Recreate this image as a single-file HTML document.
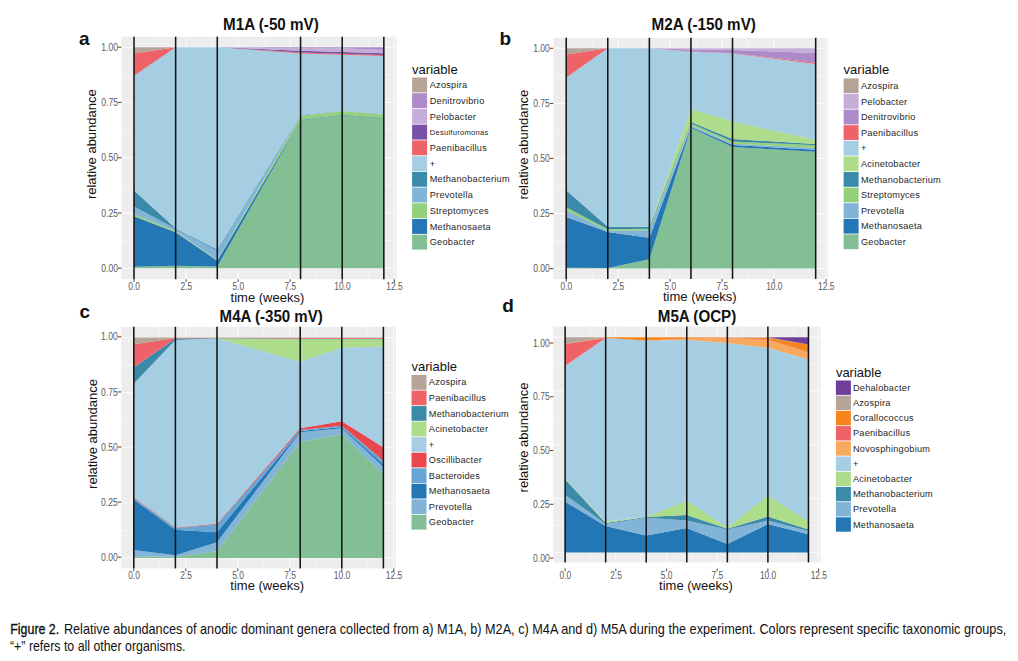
<!DOCTYPE html>
<html><head><meta charset="utf-8"><title>Figure 2</title>
<style>
html,body{margin:0;padding:0;background:#fff;width:1018px;height:661px;overflow:hidden}
svg{display:block}
text{font-family:"Liberation Sans",sans-serif}
</style></head><body>
<svg width="1018" height="661" viewBox="0 0 1018 661">
<rect x="121.5" y="36.7" width="275.1" height="242.5" fill="#EDEDED"/>
<line x1="121.5" x2="396.6" y1="240.57" y2="240.57" stroke="#F7F7F7" stroke-width="0.8"/>
<line x1="121.5" x2="396.6" y1="185.32" y2="185.32" stroke="#F7F7F7" stroke-width="0.8"/>
<line x1="121.5" x2="396.6" y1="130.07" y2="130.07" stroke="#F7F7F7" stroke-width="0.8"/>
<line x1="121.5" x2="396.6" y1="74.82" y2="74.82" stroke="#F7F7F7" stroke-width="0.8"/>
<line y1="36.7" y2="279.2" x1="160.03" x2="160.03" stroke="#F7F7F7" stroke-width="0.8"/>
<line y1="36.7" y2="279.2" x1="212.07" x2="212.07" stroke="#F7F7F7" stroke-width="0.8"/>
<line y1="36.7" y2="279.2" x1="264.12" x2="264.12" stroke="#F7F7F7" stroke-width="0.8"/>
<line y1="36.7" y2="279.2" x1="316.18" x2="316.18" stroke="#F7F7F7" stroke-width="0.8"/>
<line y1="36.7" y2="279.2" x1="368.23" x2="368.23" stroke="#F7F7F7" stroke-width="0.8"/>
<line x1="121.5" x2="396.6" y1="268.2" y2="268.2" stroke="#FCFCFC" stroke-width="1.0"/>
<line x1="121.5" x2="396.6" y1="212.95" y2="212.95" stroke="#FCFCFC" stroke-width="1.0"/>
<line x1="121.5" x2="396.6" y1="157.7" y2="157.7" stroke="#FCFCFC" stroke-width="1.0"/>
<line x1="121.5" x2="396.6" y1="102.45" y2="102.45" stroke="#FCFCFC" stroke-width="1.0"/>
<line x1="121.5" x2="396.6" y1="47.2" y2="47.2" stroke="#FCFCFC" stroke-width="1.0"/>
<line y1="36.7" y2="279.2" x1="134" x2="134" stroke="#FCFCFC" stroke-width="1.0"/>
<line y1="36.7" y2="279.2" x1="186.05" x2="186.05" stroke="#FCFCFC" stroke-width="1.0"/>
<line y1="36.7" y2="279.2" x1="238.1" x2="238.1" stroke="#FCFCFC" stroke-width="1.0"/>
<line y1="36.7" y2="279.2" x1="290.15" x2="290.15" stroke="#FCFCFC" stroke-width="1.0"/>
<line y1="36.7" y2="279.2" x1="342.2" x2="342.2" stroke="#FCFCFC" stroke-width="1.0"/>
<line y1="36.7" y2="279.2" x1="394.25" x2="394.25" stroke="#FCFCFC" stroke-width="1.0"/>
<path d="M134,266.87 L175.64,265.77 L217.28,266.43 L300.56,120.35 L342.2,115.27 L383.84,118.14 L383.84,268.2 L342.2,268.2 L300.56,268.2 L217.28,268.2 L175.64,268.2 L134,268.2Z" fill="#83BF95"/>
<path d="M134,216.26 L175.64,232.18 L217.28,260.69 L300.56,119.69 L342.2,114.83 L383.84,117.7 L383.84,118.14 L342.2,115.27 L300.56,120.35 L217.28,266.43 L175.64,265.77 L134,266.87Z" fill="#2377B4"/>
<path d="M134,214.28 L175.64,231.07 L217.28,260.02 L300.56,115.71 L342.2,111.29 L383.84,114.6 L383.84,117.7 L342.2,114.83 L300.56,119.69 L217.28,260.69 L175.64,232.18 L134,216.26Z" fill="#93D17A"/>
<path d="M134,206.54 L175.64,228.86 L217.28,250.74 L300.56,115.05 L342.2,110.85 L383.84,114.16 L383.84,114.6 L342.2,111.29 L300.56,115.71 L217.28,260.02 L175.64,231.07 L134,214.28Z" fill="#82B4D8"/>
<path d="M134,190.41 L175.64,228.2 L217.28,249.41 L300.56,114.83 L342.2,110.63 L383.84,113.94 L383.84,114.16 L342.2,110.85 L300.56,115.05 L217.28,250.74 L175.64,228.86 L134,206.54Z" fill="#3C8AAA"/>
<path d="M134,75.71 L175.64,47.2 L217.28,47.2 L300.56,53.39 L342.2,54.71 L383.84,56.04 L383.84,113.94 L342.2,110.63 L300.56,114.83 L217.28,249.41 L175.64,228.2 L134,190.41Z" fill="#A6CEE3"/>
<path d="M134,53.39 L175.64,47.2 L217.28,47.2 L300.56,52.5 L342.2,53.83 L383.84,54.94 L383.84,56.04 L342.2,54.71 L300.56,53.39 L217.28,47.2 L175.64,47.2 L134,75.71Z" fill="#EF6368"/>
<path d="M134,53.39 L175.64,47.2 L217.28,47.2 L300.56,50.74 L342.2,52.06 L383.84,53.17 L383.84,54.94 L342.2,53.83 L300.56,52.5 L217.28,47.2 L175.64,47.2 L134,53.39Z" fill="#7850A6"/>
<path d="M134,53.39 L175.64,47.2 L217.28,47.2 L300.56,48.3 L342.2,48.3 L383.84,50.07 L383.84,53.17 L342.2,52.06 L300.56,50.74 L217.28,47.2 L175.64,47.2 L134,53.39Z" fill="#C5AED8"/>
<path d="M134,53.39 L175.64,47.2 L217.28,47.2 L300.56,47.2 L342.2,47.2 L383.84,47.2 L383.84,50.07 L342.2,48.3 L300.56,48.3 L217.28,47.2 L175.64,47.2 L134,53.39Z" fill="#AC8BC8"/>
<path d="M134,47.2 L175.64,47.2 L217.28,47.2 L300.56,47.2 L342.2,47.2 L383.84,47.2 L383.84,47.2 L342.2,47.2 L300.56,47.2 L217.28,47.2 L175.64,47.2 L134,53.39Z" fill="#B6A499"/>
<line y1="36.7" y2="279.2" x1="134" x2="134" stroke="#141414" stroke-width="1.55"/>
<line y1="36.7" y2="279.2" x1="175.64" x2="175.64" stroke="#141414" stroke-width="1.55"/>
<line y1="36.7" y2="279.2" x1="217.28" x2="217.28" stroke="#141414" stroke-width="1.55"/>
<line y1="36.7" y2="279.2" x1="300.56" x2="300.56" stroke="#141414" stroke-width="1.55"/>
<line y1="36.7" y2="279.2" x1="342.2" x2="342.2" stroke="#141414" stroke-width="1.55"/>
<line y1="36.7" y2="279.2" x1="383.84" x2="383.84" stroke="#141414" stroke-width="1.55"/>
<line x1="118" x2="121.5" y1="268.2" y2="268.2" stroke="#555" stroke-width="1.1"/>
<text x="118" y="271.8" text-anchor="end" font-size="10" fill="#5A5A5A" textLength="16.74" lengthAdjust="spacingAndGlyphs">0.00</text>
<line x1="118" x2="121.5" y1="212.95" y2="212.95" stroke="#555" stroke-width="1.1"/>
<text x="118" y="216.55" text-anchor="end" font-size="10" fill="#5A5A5A" textLength="16.74" lengthAdjust="spacingAndGlyphs">0.25</text>
<line x1="118" x2="121.5" y1="157.7" y2="157.7" stroke="#555" stroke-width="1.1"/>
<text x="118" y="161.3" text-anchor="end" font-size="10" fill="#5A5A5A" textLength="16.74" lengthAdjust="spacingAndGlyphs">0.50</text>
<line x1="118" x2="121.5" y1="102.45" y2="102.45" stroke="#555" stroke-width="1.1"/>
<text x="118" y="106.05" text-anchor="end" font-size="10" fill="#5A5A5A" textLength="16.74" lengthAdjust="spacingAndGlyphs">0.75</text>
<line x1="118" x2="121.5" y1="47.2" y2="47.2" stroke="#555" stroke-width="1.1"/>
<text x="118" y="50.8" text-anchor="end" font-size="10" fill="#5A5A5A" textLength="16.74" lengthAdjust="spacingAndGlyphs">1.00</text>
<line x1="134" x2="134" y1="279.2" y2="282" stroke="#555" stroke-width="1.1"/>
<text x="134.2" y="290" text-anchor="middle" font-size="10" fill="#5A5A5A" textLength="11.68" lengthAdjust="spacingAndGlyphs">0.0</text>
<line x1="186.05" x2="186.05" y1="279.2" y2="282" stroke="#555" stroke-width="1.1"/>
<text x="186.25" y="290" text-anchor="middle" font-size="10" fill="#5A5A5A" textLength="11.68" lengthAdjust="spacingAndGlyphs">2.5</text>
<line x1="238.1" x2="238.1" y1="279.2" y2="282" stroke="#555" stroke-width="1.1"/>
<text x="238.3" y="290" text-anchor="middle" font-size="10" fill="#5A5A5A" textLength="11.68" lengthAdjust="spacingAndGlyphs">5.0</text>
<line x1="290.15" x2="290.15" y1="279.2" y2="282" stroke="#555" stroke-width="1.1"/>
<text x="290.35" y="290" text-anchor="middle" font-size="10" fill="#5A5A5A" textLength="11.68" lengthAdjust="spacingAndGlyphs">7.5</text>
<line x1="342.2" x2="342.2" y1="279.2" y2="282" stroke="#555" stroke-width="1.1"/>
<text x="342.4" y="290" text-anchor="middle" font-size="10" fill="#5A5A5A" textLength="16.35" lengthAdjust="spacingAndGlyphs">10.0</text>
<line x1="394.25" x2="394.25" y1="279.2" y2="282" stroke="#555" stroke-width="1.1"/>
<text x="394.45" y="290" text-anchor="middle" font-size="10" fill="#5A5A5A" textLength="16.35" lengthAdjust="spacingAndGlyphs">12.5</text>
<text x="230.6" y="301.8" font-size="13" fill="#111">time (weeks)</text>
<text transform="translate(95.9,144.2) rotate(-90)" text-anchor="middle" font-size="13" fill="#111">relative abundance</text>
<text x="223" y="29.5" font-size="15.6" font-weight="bold" fill="#111" textLength="95.8" lengthAdjust="spacingAndGlyphs">M1A (-50 mV)</text>
<text x="79" y="45.3" font-size="19" font-weight="bold" fill="#111">a</text>
<text x="412.1" y="73.8" font-size="13" fill="#111">variable</text>
<rect x="412.1" y="77.5" width="15" height="14.92" fill="#B6A499"/>
<text x="429.7" y="88.06" font-size="9.2" letter-spacing="0.25" fill="#262626">Azospira</text>
<rect x="412.1" y="93.22" width="15" height="14.92" fill="#AC8BC8"/>
<text x="429.7" y="103.78" font-size="9.2" letter-spacing="0.25" fill="#262626">Denitrovibrio</text>
<rect x="412.1" y="108.94" width="15" height="14.92" fill="#C5AED8"/>
<text x="429.7" y="119.5" font-size="9.2" letter-spacing="0.25" fill="#262626">Pelobacter</text>
<rect x="412.1" y="124.66" width="15" height="14.92" fill="#7850A6"/>
<text x="429.7" y="135.22" font-size="7.6" letter-spacing="0.25" fill="#262626">Desulfuromonas</text>
<rect x="412.1" y="140.38" width="15" height="14.92" fill="#EF6368"/>
<text x="429.7" y="150.94" font-size="9.2" letter-spacing="0.25" fill="#262626">Paenibacillus</text>
<rect x="412.1" y="156.1" width="15" height="14.92" fill="#A6CEE3"/>
<text x="429.7" y="166.66" font-size="9.2" letter-spacing="0.25" fill="#262626">+</text>
<rect x="412.1" y="171.82" width="15" height="14.92" fill="#3C8AAA"/>
<text x="429.7" y="182.38" font-size="9.2" letter-spacing="0.25" fill="#262626">Methanobacterium</text>
<rect x="412.1" y="187.54" width="15" height="14.92" fill="#82B4D8"/>
<text x="429.7" y="198.1" font-size="9.2" letter-spacing="0.25" fill="#262626">Prevotella</text>
<rect x="412.1" y="203.26" width="15" height="14.92" fill="#93D17A"/>
<text x="429.7" y="213.82" font-size="9.2" letter-spacing="0.25" fill="#262626">Streptomyces</text>
<rect x="412.1" y="218.98" width="15" height="14.92" fill="#2377B4"/>
<text x="429.7" y="229.54" font-size="9.2" letter-spacing="0.25" fill="#262626">Methanosaeta</text>
<rect x="412.1" y="234.7" width="15" height="14.92" fill="#83BF95"/>
<text x="429.7" y="245.26" font-size="9.2" letter-spacing="0.25" fill="#262626">Geobacter</text>
<rect x="553.4" y="37.8" width="274.5" height="241.1" fill="#EDEDED"/>
<line x1="553.4" x2="827.9" y1="241.06" y2="241.06" stroke="#F7F7F7" stroke-width="0.8"/>
<line x1="553.4" x2="827.9" y1="185.99" y2="185.99" stroke="#F7F7F7" stroke-width="0.8"/>
<line x1="553.4" x2="827.9" y1="130.91" y2="130.91" stroke="#F7F7F7" stroke-width="0.8"/>
<line x1="553.4" x2="827.9" y1="75.84" y2="75.84" stroke="#F7F7F7" stroke-width="0.8"/>
<line y1="37.8" y2="278.9" x1="592.19" x2="592.19" stroke="#F7F7F7" stroke-width="0.8"/>
<line y1="37.8" y2="278.9" x1="644.16" x2="644.16" stroke="#F7F7F7" stroke-width="0.8"/>
<line y1="37.8" y2="278.9" x1="696.14" x2="696.14" stroke="#F7F7F7" stroke-width="0.8"/>
<line y1="37.8" y2="278.9" x1="748.11" x2="748.11" stroke="#F7F7F7" stroke-width="0.8"/>
<line y1="37.8" y2="278.9" x1="800.09" x2="800.09" stroke="#F7F7F7" stroke-width="0.8"/>
<line x1="553.4" x2="827.9" y1="268.6" y2="268.6" stroke="#FCFCFC" stroke-width="1.0"/>
<line x1="553.4" x2="827.9" y1="213.53" y2="213.53" stroke="#FCFCFC" stroke-width="1.0"/>
<line x1="553.4" x2="827.9" y1="158.45" y2="158.45" stroke="#FCFCFC" stroke-width="1.0"/>
<line x1="553.4" x2="827.9" y1="103.38" y2="103.38" stroke="#FCFCFC" stroke-width="1.0"/>
<line x1="553.4" x2="827.9" y1="48.3" y2="48.3" stroke="#FCFCFC" stroke-width="1.0"/>
<line y1="37.8" y2="278.9" x1="566.2" x2="566.2" stroke="#FCFCFC" stroke-width="1.0"/>
<line y1="37.8" y2="278.9" x1="618.18" x2="618.18" stroke="#FCFCFC" stroke-width="1.0"/>
<line y1="37.8" y2="278.9" x1="670.15" x2="670.15" stroke="#FCFCFC" stroke-width="1.0"/>
<line y1="37.8" y2="278.9" x1="722.12" x2="722.12" stroke="#FCFCFC" stroke-width="1.0"/>
<line y1="37.8" y2="278.9" x1="774.1" x2="774.1" stroke="#FCFCFC" stroke-width="1.0"/>
<line y1="37.8" y2="278.9" x1="826.08" x2="826.08" stroke="#FCFCFC" stroke-width="1.0"/>
<path d="M566.2,267.72 L607.78,267.94 L649.36,259.35 L690.94,127.83 L732.52,146.99 L815.68,151.84 L815.68,268.6 L732.52,268.6 L690.94,268.6 L649.36,268.6 L607.78,268.6 L566.2,268.6Z" fill="#83BF95"/>
<path d="M566.2,217.05 L607.78,232.03 L649.36,237.76 L690.94,126.73 L732.52,145.01 L815.68,149.86 L815.68,151.84 L732.52,146.99 L690.94,127.83 L649.36,259.35 L607.78,267.94 L566.2,267.72Z" fill="#2377B4"/>
<path d="M566.2,210.22 L607.78,230.71 L649.36,230.27 L690.94,125.41 L732.52,143.69 L815.68,147.88 L815.68,149.86 L732.52,145.01 L690.94,126.73 L649.36,237.76 L607.78,232.03 L566.2,217.05Z" fill="#82B4D8"/>
<path d="M566.2,207.14 L607.78,229.17 L649.36,228.73 L690.94,123.42 L732.52,141.49 L815.68,145.23 L815.68,147.88 L732.52,143.69 L690.94,125.41 L649.36,230.27 L607.78,230.71 L566.2,210.22Z" fill="#93D17A"/>
<path d="M566.2,190.17 L607.78,226.74 L649.36,226.74 L690.94,121.88 L732.52,139.06 L815.68,143.91 L815.68,145.23 L732.52,141.49 L690.94,123.42 L649.36,228.73 L607.78,229.17 L566.2,207.14Z" fill="#3C8AAA"/>
<path d="M566.2,190.17 L607.78,226.74 L649.36,226.74 L690.94,108.88 L732.52,121.44 L815.68,139.94 L815.68,143.91 L732.52,139.06 L690.94,121.88 L649.36,226.74 L607.78,226.74 L566.2,190.17Z" fill="#ADDC8A"/>
<path d="M566.2,77.6 L607.78,48.3 L649.36,48.3 L690.94,51.82 L732.52,53.59 L815.68,63.94 L815.68,139.94 L732.52,121.44 L690.94,108.88 L649.36,226.74 L607.78,226.74 L566.2,190.17Z" fill="#A6CEE3"/>
<path d="M566.2,54.47 L607.78,48.3 L649.36,48.3 L690.94,51.38 L732.52,53.15 L815.68,62.84 L815.68,63.94 L732.52,53.59 L690.94,51.82 L649.36,48.3 L607.78,48.3 L566.2,77.6Z" fill="#EF6368"/>
<path d="M566.2,54.47 L607.78,48.3 L649.36,48.3 L690.94,49.62 L732.52,50.06 L815.68,52.93 L815.68,62.84 L732.52,53.15 L690.94,51.38 L649.36,48.3 L607.78,48.3 L566.2,54.47Z" fill="#AC8BC8"/>
<path d="M566.2,54.47 L607.78,48.3 L649.36,48.3 L690.94,48.3 L732.52,48.3 L815.68,48.3 L815.68,52.93 L732.52,50.06 L690.94,49.62 L649.36,48.3 L607.78,48.3 L566.2,54.47Z" fill="#C5AED8"/>
<path d="M566.2,48.3 L607.78,48.3 L649.36,48.3 L690.94,48.3 L732.52,48.3 L815.68,48.3 L815.68,48.3 L732.52,48.3 L690.94,48.3 L649.36,48.3 L607.78,48.3 L566.2,54.47Z" fill="#B6A499"/>
<line y1="37.8" y2="278.9" x1="566.2" x2="566.2" stroke="#141414" stroke-width="1.55"/>
<line y1="37.8" y2="278.9" x1="607.78" x2="607.78" stroke="#141414" stroke-width="1.55"/>
<line y1="37.8" y2="278.9" x1="649.36" x2="649.36" stroke="#141414" stroke-width="1.55"/>
<line y1="37.8" y2="278.9" x1="690.94" x2="690.94" stroke="#141414" stroke-width="1.55"/>
<line y1="37.8" y2="278.9" x1="732.52" x2="732.52" stroke="#141414" stroke-width="1.55"/>
<line y1="37.8" y2="278.9" x1="815.68" x2="815.68" stroke="#141414" stroke-width="1.55"/>
<line x1="549.9" x2="553.4" y1="268.6" y2="268.6" stroke="#555" stroke-width="1.1"/>
<text x="549.9" y="272.2" text-anchor="end" font-size="10" fill="#5A5A5A" textLength="16.74" lengthAdjust="spacingAndGlyphs">0.00</text>
<line x1="549.9" x2="553.4" y1="213.53" y2="213.53" stroke="#555" stroke-width="1.1"/>
<text x="549.9" y="217.13" text-anchor="end" font-size="10" fill="#5A5A5A" textLength="16.74" lengthAdjust="spacingAndGlyphs">0.25</text>
<line x1="549.9" x2="553.4" y1="158.45" y2="158.45" stroke="#555" stroke-width="1.1"/>
<text x="549.9" y="162.05" text-anchor="end" font-size="10" fill="#5A5A5A" textLength="16.74" lengthAdjust="spacingAndGlyphs">0.50</text>
<line x1="549.9" x2="553.4" y1="103.38" y2="103.38" stroke="#555" stroke-width="1.1"/>
<text x="549.9" y="106.97" text-anchor="end" font-size="10" fill="#5A5A5A" textLength="16.74" lengthAdjust="spacingAndGlyphs">0.75</text>
<line x1="549.9" x2="553.4" y1="48.3" y2="48.3" stroke="#555" stroke-width="1.1"/>
<text x="549.9" y="51.9" text-anchor="end" font-size="10" fill="#5A5A5A" textLength="16.74" lengthAdjust="spacingAndGlyphs">1.00</text>
<line x1="566.2" x2="566.2" y1="278.9" y2="281.7" stroke="#555" stroke-width="1.1"/>
<text x="566.4" y="290.3" text-anchor="middle" font-size="10" fill="#5A5A5A" textLength="11.68" lengthAdjust="spacingAndGlyphs">0.0</text>
<line x1="618.18" x2="618.18" y1="278.9" y2="281.7" stroke="#555" stroke-width="1.1"/>
<text x="618.38" y="290.3" text-anchor="middle" font-size="10" fill="#5A5A5A" textLength="11.68" lengthAdjust="spacingAndGlyphs">2.5</text>
<line x1="670.15" x2="670.15" y1="278.9" y2="281.7" stroke="#555" stroke-width="1.1"/>
<text x="670.35" y="290.3" text-anchor="middle" font-size="10" fill="#5A5A5A" textLength="11.68" lengthAdjust="spacingAndGlyphs">5.0</text>
<line x1="722.12" x2="722.12" y1="278.9" y2="281.7" stroke="#555" stroke-width="1.1"/>
<text x="722.33" y="290.3" text-anchor="middle" font-size="10" fill="#5A5A5A" textLength="11.68" lengthAdjust="spacingAndGlyphs">7.5</text>
<line x1="774.1" x2="774.1" y1="278.9" y2="281.7" stroke="#555" stroke-width="1.1"/>
<text x="774.3" y="290.3" text-anchor="middle" font-size="10" fill="#5A5A5A" textLength="16.35" lengthAdjust="spacingAndGlyphs">10.0</text>
<line x1="826.08" x2="826.08" y1="278.9" y2="281.7" stroke="#555" stroke-width="1.1"/>
<text x="826.28" y="290.3" text-anchor="middle" font-size="10" fill="#5A5A5A" textLength="16.35" lengthAdjust="spacingAndGlyphs">12.5</text>
<text x="663" y="301.2" font-size="13" fill="#111">time (weeks)</text>
<text transform="translate(527.8,144.6) rotate(-90)" text-anchor="middle" font-size="13" fill="#111">relative abundance</text>
<text x="651.5" y="29.8" font-size="15.6" font-weight="bold" fill="#111" textLength="104.4" lengthAdjust="spacingAndGlyphs">M2A (-150 mV)</text>
<text x="499.5" y="45.2" font-size="19" font-weight="bold" fill="#111">b</text>
<text x="843.6" y="74.2" font-size="13" fill="#111">variable</text>
<rect x="843.6" y="78.4" width="15" height="14.8" fill="#B6A499"/>
<text x="860.9" y="88.9" font-size="9.2" letter-spacing="0.25" fill="#262626">Azospira</text>
<rect x="843.6" y="94" width="15" height="14.8" fill="#C5AED8"/>
<text x="860.9" y="104.5" font-size="9.2" letter-spacing="0.25" fill="#262626">Pelobacter</text>
<rect x="843.6" y="109.6" width="15" height="14.8" fill="#AC8BC8"/>
<text x="860.9" y="120.1" font-size="9.2" letter-spacing="0.25" fill="#262626">Denitrovibrio</text>
<rect x="843.6" y="125.2" width="15" height="14.8" fill="#EF6368"/>
<text x="860.9" y="135.7" font-size="9.2" letter-spacing="0.25" fill="#262626">Paenibacillus</text>
<rect x="843.6" y="140.8" width="15" height="14.8" fill="#A6CEE3"/>
<text x="860.9" y="151.3" font-size="9.2" letter-spacing="0.25" fill="#262626">+</text>
<rect x="843.6" y="156.4" width="15" height="14.8" fill="#ADDC8A"/>
<text x="860.9" y="166.9" font-size="9.2" letter-spacing="0.25" fill="#262626">Acinetobacter</text>
<rect x="843.6" y="172" width="15" height="14.8" fill="#3C8AAA"/>
<text x="860.9" y="182.5" font-size="9.2" letter-spacing="0.25" fill="#262626">Methanobacterium</text>
<rect x="843.6" y="187.6" width="15" height="14.8" fill="#93D17A"/>
<text x="860.9" y="198.1" font-size="9.2" letter-spacing="0.25" fill="#262626">Streptomyces</text>
<rect x="843.6" y="203.2" width="15" height="14.8" fill="#82B4D8"/>
<text x="860.9" y="213.7" font-size="9.2" letter-spacing="0.25" fill="#262626">Prevotella</text>
<rect x="843.6" y="218.8" width="15" height="14.8" fill="#2377B4"/>
<text x="860.9" y="229.3" font-size="9.2" letter-spacing="0.25" fill="#262626">Methanosaeta</text>
<rect x="843.6" y="234.4" width="15" height="14.8" fill="#83BF95"/>
<text x="860.9" y="244.9" font-size="9.2" letter-spacing="0.25" fill="#262626">Geobacter</text>
<rect x="121.3" y="326.8" width="274.5" height="241.6" fill="#EDEDED"/>
<line x1="121.3" x2="395.8" y1="530.45" y2="530.45" stroke="#F7F7F7" stroke-width="0.8"/>
<line x1="121.3" x2="395.8" y1="475.35" y2="475.35" stroke="#F7F7F7" stroke-width="0.8"/>
<line x1="121.3" x2="395.8" y1="420.25" y2="420.25" stroke="#F7F7F7" stroke-width="0.8"/>
<line x1="121.3" x2="395.8" y1="365.15" y2="365.15" stroke="#F7F7F7" stroke-width="0.8"/>
<line y1="326.8" y2="568.4" x1="159.8" x2="159.8" stroke="#F7F7F7" stroke-width="0.8"/>
<line y1="326.8" y2="568.4" x1="211.8" x2="211.8" stroke="#F7F7F7" stroke-width="0.8"/>
<line y1="326.8" y2="568.4" x1="263.8" x2="263.8" stroke="#F7F7F7" stroke-width="0.8"/>
<line y1="326.8" y2="568.4" x1="315.8" x2="315.8" stroke="#F7F7F7" stroke-width="0.8"/>
<line y1="326.8" y2="568.4" x1="367.8" x2="367.8" stroke="#F7F7F7" stroke-width="0.8"/>
<line x1="121.3" x2="395.8" y1="558" y2="558" stroke="#FCFCFC" stroke-width="1.0"/>
<line x1="121.3" x2="395.8" y1="502.9" y2="502.9" stroke="#FCFCFC" stroke-width="1.0"/>
<line x1="121.3" x2="395.8" y1="447.8" y2="447.8" stroke="#FCFCFC" stroke-width="1.0"/>
<line x1="121.3" x2="395.8" y1="392.7" y2="392.7" stroke="#FCFCFC" stroke-width="1.0"/>
<line x1="121.3" x2="395.8" y1="337.6" y2="337.6" stroke="#FCFCFC" stroke-width="1.0"/>
<line y1="326.8" y2="568.4" x1="133.8" x2="133.8" stroke="#FCFCFC" stroke-width="1.0"/>
<line y1="326.8" y2="568.4" x1="185.8" x2="185.8" stroke="#FCFCFC" stroke-width="1.0"/>
<line y1="326.8" y2="568.4" x1="237.8" x2="237.8" stroke="#FCFCFC" stroke-width="1.0"/>
<line y1="326.8" y2="568.4" x1="289.8" x2="289.8" stroke="#FCFCFC" stroke-width="1.0"/>
<line y1="326.8" y2="568.4" x1="341.8" x2="341.8" stroke="#FCFCFC" stroke-width="1.0"/>
<line y1="326.8" y2="568.4" x1="393.8" x2="393.8" stroke="#FCFCFC" stroke-width="1.0"/>
<path d="M133.8,556.24 L175.4,556.68 L217,551.17 L300.2,441.85 L341.8,434.14 L383.4,474.25 L383.4,558 L341.8,558 L300.2,558 L217,558 L175.4,558 L133.8,558Z" fill="#83BF95"/>
<path d="M133.8,550.07 L175.4,555.36 L217,542.13 L300.2,432.37 L341.8,428.18 L383.4,466.75 L383.4,474.25 L341.8,434.14 L300.2,441.85 L217,551.17 L175.4,556.68 L133.8,556.24Z" fill="#82B4D8"/>
<path d="M133.8,499.59 L175.4,529.79 L217,532.21 L300.2,431.05 L341.8,427.08 L383.4,464.33 L383.4,466.75 L341.8,428.18 L300.2,432.37 L217,542.13 L175.4,555.36 L133.8,550.07Z" fill="#2377B4"/>
<path d="M133.8,498.05 L175.4,528.03 L217,524.5 L300.2,429.95 L341.8,425.76 L383.4,460.8 L383.4,464.33 L341.8,427.08 L300.2,431.05 L217,532.21 L175.4,529.79 L133.8,499.59Z" fill="#66A5D4"/>
<path d="M133.8,497.17 L175.4,527.58 L217,523.84 L300.2,428.18 L341.8,421.35 L383.4,447.14 L383.4,460.8 L341.8,425.76 L300.2,429.95 L217,524.5 L175.4,528.03 L133.8,498.05Z" fill="#E9474D"/>
<path d="M133.8,383.44 L175.4,340.02 L217,338.26 L300.2,361.62 L341.8,347.74 L383.4,346.42 L383.4,447.14 L341.8,421.35 L300.2,428.18 L217,523.84 L175.4,527.58 L133.8,497.17Z" fill="#A6CEE3"/>
<path d="M133.8,383.44 L175.4,340.02 L217,338.26 L300.2,339.14 L341.8,339.14 L383.4,339.14 L383.4,346.42 L341.8,347.74 L300.2,361.62 L217,338.26 L175.4,340.02 L133.8,383.44Z" fill="#ADDC8A"/>
<path d="M133.8,367.35 L175.4,338.48 L217,338.04 L300.2,338.7 L341.8,338.7 L383.4,338.7 L383.4,339.14 L341.8,339.14 L300.2,339.14 L217,338.26 L175.4,340.02 L133.8,383.44Z" fill="#3C8AAA"/>
<path d="M133.8,344.21 L175.4,338.04 L217,337.82 L300.2,338.04 L341.8,338.04 L383.4,338.04 L383.4,338.7 L341.8,338.7 L300.2,338.7 L217,338.04 L175.4,338.48 L133.8,367.35Z" fill="#EF6368"/>
<path d="M133.8,337.6 L175.4,337.6 L217,337.6 L300.2,337.6 L341.8,337.6 L383.4,337.6 L383.4,338.04 L341.8,338.04 L300.2,338.04 L217,337.82 L175.4,338.04 L133.8,344.21Z" fill="#B6A499"/>
<line y1="326.8" y2="568.4" x1="133.8" x2="133.8" stroke="#141414" stroke-width="1.55"/>
<line y1="326.8" y2="568.4" x1="175.4" x2="175.4" stroke="#141414" stroke-width="1.55"/>
<line y1="326.8" y2="568.4" x1="217" x2="217" stroke="#141414" stroke-width="1.55"/>
<line y1="326.8" y2="568.4" x1="300.2" x2="300.2" stroke="#141414" stroke-width="1.55"/>
<line y1="326.8" y2="568.4" x1="341.8" x2="341.8" stroke="#141414" stroke-width="1.55"/>
<line y1="326.8" y2="568.4" x1="383.4" x2="383.4" stroke="#141414" stroke-width="1.55"/>
<line x1="117.8" x2="121.3" y1="557.2" y2="557.2" stroke="#555" stroke-width="1.1"/>
<text x="117.8" y="560.8" text-anchor="end" font-size="10" fill="#5A5A5A" textLength="16.74" lengthAdjust="spacingAndGlyphs">0.00</text>
<line x1="117.8" x2="121.3" y1="502.1" y2="502.1" stroke="#555" stroke-width="1.1"/>
<text x="117.8" y="505.7" text-anchor="end" font-size="10" fill="#5A5A5A" textLength="16.74" lengthAdjust="spacingAndGlyphs">0.25</text>
<line x1="117.8" x2="121.3" y1="447" y2="447" stroke="#555" stroke-width="1.1"/>
<text x="117.8" y="450.6" text-anchor="end" font-size="10" fill="#5A5A5A" textLength="16.74" lengthAdjust="spacingAndGlyphs">0.50</text>
<line x1="117.8" x2="121.3" y1="391.9" y2="391.9" stroke="#555" stroke-width="1.1"/>
<text x="117.8" y="395.5" text-anchor="end" font-size="10" fill="#5A5A5A" textLength="16.74" lengthAdjust="spacingAndGlyphs">0.75</text>
<line x1="117.8" x2="121.3" y1="336.8" y2="336.8" stroke="#555" stroke-width="1.1"/>
<text x="117.8" y="340.4" text-anchor="end" font-size="10" fill="#5A5A5A" textLength="16.74" lengthAdjust="spacingAndGlyphs">1.00</text>
<line x1="133.8" x2="133.8" y1="568.4" y2="571.2" stroke="#555" stroke-width="1.1"/>
<text x="134" y="578.6" text-anchor="middle" font-size="10" fill="#5A5A5A" textLength="11.68" lengthAdjust="spacingAndGlyphs">0.0</text>
<line x1="185.8" x2="185.8" y1="568.4" y2="571.2" stroke="#555" stroke-width="1.1"/>
<text x="186" y="578.6" text-anchor="middle" font-size="10" fill="#5A5A5A" textLength="11.68" lengthAdjust="spacingAndGlyphs">2.5</text>
<line x1="237.8" x2="237.8" y1="568.4" y2="571.2" stroke="#555" stroke-width="1.1"/>
<text x="238" y="578.6" text-anchor="middle" font-size="10" fill="#5A5A5A" textLength="11.68" lengthAdjust="spacingAndGlyphs">5.0</text>
<line x1="289.8" x2="289.8" y1="568.4" y2="571.2" stroke="#555" stroke-width="1.1"/>
<text x="290" y="578.6" text-anchor="middle" font-size="10" fill="#5A5A5A" textLength="11.68" lengthAdjust="spacingAndGlyphs">7.5</text>
<line x1="341.8" x2="341.8" y1="568.4" y2="571.2" stroke="#555" stroke-width="1.1"/>
<text x="342" y="578.6" text-anchor="middle" font-size="10" fill="#5A5A5A" textLength="16.35" lengthAdjust="spacingAndGlyphs">10.0</text>
<line x1="393.8" x2="393.8" y1="568.4" y2="571.2" stroke="#555" stroke-width="1.1"/>
<text x="394" y="578.6" text-anchor="middle" font-size="10" fill="#5A5A5A" textLength="16.35" lengthAdjust="spacingAndGlyphs">12.5</text>
<text x="230.3" y="590.2" font-size="13" fill="#111">time (weeks)</text>
<text transform="translate(96.6,434) rotate(-90)" text-anchor="middle" font-size="13" fill="#111">relative abundance</text>
<text x="219.6" y="322.3" font-size="15.6" font-weight="bold" fill="#111" textLength="103.2" lengthAdjust="spacingAndGlyphs">M4A (-350 mV)</text>
<text x="79.5" y="318.1" font-size="19" font-weight="bold" fill="#111">c</text>
<text x="411.5" y="370.8" font-size="13" fill="#111">variable</text>
<rect x="411.5" y="375" width="15" height="14.74" fill="#B6A499"/>
<text x="428.8" y="385.47" font-size="9.2" letter-spacing="0.25" fill="#262626">Azospira</text>
<rect x="411.5" y="390.54" width="15" height="14.74" fill="#EF6368"/>
<text x="428.8" y="401.01" font-size="9.2" letter-spacing="0.25" fill="#262626">Paenibacillus</text>
<rect x="411.5" y="406.08" width="15" height="14.74" fill="#3C8AAA"/>
<text x="428.8" y="416.55" font-size="9.2" letter-spacing="0.25" fill="#262626">Methanobacterium</text>
<rect x="411.5" y="421.62" width="15" height="14.74" fill="#ADDC8A"/>
<text x="428.8" y="432.09" font-size="9.2" letter-spacing="0.25" fill="#262626">Acinetobacter</text>
<rect x="411.5" y="437.16" width="15" height="14.74" fill="#A6CEE3"/>
<text x="428.8" y="447.63" font-size="9.2" letter-spacing="0.25" fill="#262626">+</text>
<rect x="411.5" y="452.7" width="15" height="14.74" fill="#E9474D"/>
<text x="428.8" y="463.17" font-size="9.2" letter-spacing="0.25" fill="#262626">Oscillibacter</text>
<rect x="411.5" y="468.24" width="15" height="14.74" fill="#66A5D4"/>
<text x="428.8" y="478.71" font-size="9.2" letter-spacing="0.25" fill="#262626">Bacteroides</text>
<rect x="411.5" y="483.78" width="15" height="14.74" fill="#2377B4"/>
<text x="428.8" y="494.25" font-size="9.2" letter-spacing="0.25" fill="#262626">Methanosaeta</text>
<rect x="411.5" y="499.32" width="15" height="14.74" fill="#82B4D8"/>
<text x="428.8" y="509.79" font-size="9.2" letter-spacing="0.25" fill="#262626">Prevotella</text>
<rect x="411.5" y="514.86" width="15" height="14.74" fill="#83BF95"/>
<text x="428.8" y="525.33" font-size="9.2" letter-spacing="0.25" fill="#262626">Geobacter</text>
<rect x="553.3" y="326.6" width="267.5" height="235.8" fill="#EDEDED"/>
<line x1="553.3" x2="820.8" y1="525.51" y2="525.51" stroke="#F7F7F7" stroke-width="0.8"/>
<line x1="553.3" x2="820.8" y1="471.74" y2="471.74" stroke="#F7F7F7" stroke-width="0.8"/>
<line x1="553.3" x2="820.8" y1="417.96" y2="417.96" stroke="#F7F7F7" stroke-width="0.8"/>
<line x1="553.3" x2="820.8" y1="364.19" y2="364.19" stroke="#F7F7F7" stroke-width="0.8"/>
<line y1="326.6" y2="562.4" x1="590.45" x2="590.45" stroke="#F7F7F7" stroke-width="0.8"/>
<line y1="326.6" y2="562.4" x1="641.15" x2="641.15" stroke="#F7F7F7" stroke-width="0.8"/>
<line y1="326.6" y2="562.4" x1="691.85" x2="691.85" stroke="#F7F7F7" stroke-width="0.8"/>
<line y1="326.6" y2="562.4" x1="742.55" x2="742.55" stroke="#F7F7F7" stroke-width="0.8"/>
<line y1="326.6" y2="562.4" x1="793.25" x2="793.25" stroke="#F7F7F7" stroke-width="0.8"/>
<line x1="553.3" x2="820.8" y1="552.4" y2="552.4" stroke="#FCFCFC" stroke-width="1.0"/>
<line x1="553.3" x2="820.8" y1="498.62" y2="498.62" stroke="#FCFCFC" stroke-width="1.0"/>
<line x1="553.3" x2="820.8" y1="444.85" y2="444.85" stroke="#FCFCFC" stroke-width="1.0"/>
<line x1="553.3" x2="820.8" y1="391.07" y2="391.07" stroke="#FCFCFC" stroke-width="1.0"/>
<line x1="553.3" x2="820.8" y1="337.3" y2="337.3" stroke="#FCFCFC" stroke-width="1.0"/>
<line y1="326.6" y2="562.4" x1="565.1" x2="565.1" stroke="#FCFCFC" stroke-width="1.0"/>
<line y1="326.6" y2="562.4" x1="615.8" x2="615.8" stroke="#FCFCFC" stroke-width="1.0"/>
<line y1="326.6" y2="562.4" x1="666.5" x2="666.5" stroke="#FCFCFC" stroke-width="1.0"/>
<line y1="326.6" y2="562.4" x1="717.2" x2="717.2" stroke="#FCFCFC" stroke-width="1.0"/>
<line y1="326.6" y2="562.4" x1="767.9" x2="767.9" stroke="#FCFCFC" stroke-width="1.0"/>
<line y1="326.6" y2="562.4" x1="818.6" x2="818.6" stroke="#FCFCFC" stroke-width="1.0"/>
<path d="M565.1,501.64 L605.66,525.94 L646.22,535.62 L686.78,528.09 L727.34,544.01 L767.9,524.01 L808.46,534.33 L808.46,552.4 L767.9,552.4 L727.34,552.4 L686.78,552.4 L646.22,552.4 L605.66,552.4 L565.1,552.4Z" fill="#2377B4"/>
<path d="M565.1,494.75 L605.66,524.01 L646.22,517.77 L686.78,520.57 L727.34,529.38 L767.9,520.57 L808.46,530.89 L808.46,534.33 L767.9,524.01 L727.34,544.01 L686.78,528.09 L646.22,535.62 L605.66,525.94 L565.1,501.64Z" fill="#82B4D8"/>
<path d="M565.1,479.27 L605.66,522.93 L646.22,517.12 L686.78,514.97 L727.34,528.74 L767.9,516.48 L808.46,529.38 L808.46,530.89 L767.9,520.57 L727.34,529.38 L686.78,520.57 L646.22,517.77 L605.66,524.01 L565.1,494.75Z" fill="#3C8AAA"/>
<path d="M565.1,478.84 L605.66,521.43 L646.22,516.69 L686.78,500.78 L727.34,527.45 L767.9,495.61 L808.46,521.21 L808.46,529.38 L767.9,516.48 L727.34,528.74 L686.78,514.97 L646.22,517.12 L605.66,522.93 L565.1,479.27Z" fill="#ADDC8A"/>
<path d="M565.1,365.69 L605.66,337.95 L646.22,340.53 L686.78,339.88 L727.34,343.11 L767.9,347.84 L808.46,359.46 L808.46,521.21 L767.9,495.61 L727.34,527.45 L686.78,500.78 L646.22,516.69 L605.66,521.43 L565.1,478.84Z" fill="#A6CEE3"/>
<path d="M565.1,365.69 L605.66,337.95 L646.22,340.53 L686.78,338.81 L727.34,338.16 L767.9,339.88 L808.46,352.57 L808.46,359.46 L767.9,347.84 L727.34,343.11 L686.78,339.88 L646.22,340.53 L605.66,337.95 L565.1,365.69Z" fill="#F8A960"/>
<path d="M565.1,343.97 L605.66,337.95 L646.22,340.53 L686.78,338.38 L727.34,337.95 L767.9,339.45 L808.46,352.14 L808.46,352.57 L767.9,339.88 L727.34,338.16 L686.78,338.81 L646.22,340.53 L605.66,337.95 L565.1,365.69Z" fill="#EF6368"/>
<path d="M565.1,343.97 L605.66,337.3 L646.22,337.3 L686.78,337.3 L727.34,337.52 L767.9,337.73 L808.46,344.61 L808.46,352.14 L767.9,339.45 L727.34,337.95 L686.78,338.38 L646.22,340.53 L605.66,337.95 L565.1,343.97Z" fill="#F7851E"/>
<path d="M565.1,337.3 L605.66,337.3 L646.22,337.3 L686.78,337.3 L727.34,337.3 L767.9,337.3 L808.46,344.61 L808.46,344.61 L767.9,337.73 L727.34,337.52 L686.78,337.3 L646.22,337.3 L605.66,337.3 L565.1,343.97Z" fill="#B6A499"/>
<path d="M565.1,337.3 L605.66,337.3 L646.22,337.3 L686.78,337.3 L727.34,337.3 L767.9,337.3 L808.46,337.3 L808.46,344.61 L767.9,337.3 L727.34,337.3 L686.78,337.3 L646.22,337.3 L605.66,337.3 L565.1,337.3Z" fill="#6E409C"/>
<line y1="326.6" y2="562.4" x1="565.1" x2="565.1" stroke="#141414" stroke-width="1.55"/>
<line y1="326.6" y2="562.4" x1="605.66" x2="605.66" stroke="#141414" stroke-width="1.55"/>
<line y1="326.6" y2="562.4" x1="646.22" x2="646.22" stroke="#141414" stroke-width="1.55"/>
<line y1="326.6" y2="562.4" x1="686.78" x2="686.78" stroke="#141414" stroke-width="1.55"/>
<line y1="326.6" y2="562.4" x1="727.34" x2="727.34" stroke="#141414" stroke-width="1.55"/>
<line y1="326.6" y2="562.4" x1="767.9" x2="767.9" stroke="#141414" stroke-width="1.55"/>
<line y1="326.6" y2="562.4" x1="808.46" x2="808.46" stroke="#141414" stroke-width="1.55"/>
<line x1="549.8" x2="553.3" y1="558.1" y2="558.1" stroke="#555" stroke-width="1.1"/>
<text x="549.8" y="561.7" text-anchor="end" font-size="10" fill="#5A5A5A" textLength="16.74" lengthAdjust="spacingAndGlyphs">0.00</text>
<line x1="549.8" x2="553.3" y1="504.32" y2="504.32" stroke="#555" stroke-width="1.1"/>
<text x="549.8" y="507.93" text-anchor="end" font-size="10" fill="#5A5A5A" textLength="16.74" lengthAdjust="spacingAndGlyphs">0.25</text>
<line x1="549.8" x2="553.3" y1="450.55" y2="450.55" stroke="#555" stroke-width="1.1"/>
<text x="549.8" y="454.15" text-anchor="end" font-size="10" fill="#5A5A5A" textLength="16.74" lengthAdjust="spacingAndGlyphs">0.50</text>
<line x1="549.8" x2="553.3" y1="396.77" y2="396.77" stroke="#555" stroke-width="1.1"/>
<text x="549.8" y="400.38" text-anchor="end" font-size="10" fill="#5A5A5A" textLength="16.74" lengthAdjust="spacingAndGlyphs">0.75</text>
<line x1="549.8" x2="553.3" y1="343" y2="343" stroke="#555" stroke-width="1.1"/>
<text x="549.8" y="346.6" text-anchor="end" font-size="10" fill="#5A5A5A" textLength="16.74" lengthAdjust="spacingAndGlyphs">1.00</text>
<line x1="565.1" x2="565.1" y1="568.4" y2="571.2" stroke="#555" stroke-width="1.1"/>
<text x="565.3" y="578.8" text-anchor="middle" font-size="10" fill="#5A5A5A" textLength="11.68" lengthAdjust="spacingAndGlyphs">0.0</text>
<line x1="615.8" x2="615.8" y1="568.4" y2="571.2" stroke="#555" stroke-width="1.1"/>
<text x="616" y="578.8" text-anchor="middle" font-size="10" fill="#5A5A5A" textLength="11.68" lengthAdjust="spacingAndGlyphs">2.5</text>
<line x1="666.5" x2="666.5" y1="568.4" y2="571.2" stroke="#555" stroke-width="1.1"/>
<text x="666.7" y="578.8" text-anchor="middle" font-size="10" fill="#5A5A5A" textLength="11.68" lengthAdjust="spacingAndGlyphs">5.0</text>
<line x1="717.2" x2="717.2" y1="568.4" y2="571.2" stroke="#555" stroke-width="1.1"/>
<text x="717.4" y="578.8" text-anchor="middle" font-size="10" fill="#5A5A5A" textLength="11.68" lengthAdjust="spacingAndGlyphs">7.5</text>
<line x1="767.9" x2="767.9" y1="568.4" y2="571.2" stroke="#555" stroke-width="1.1"/>
<text x="768.1" y="578.8" text-anchor="middle" font-size="10" fill="#5A5A5A" textLength="16.35" lengthAdjust="spacingAndGlyphs">10.0</text>
<line x1="818.6" x2="818.6" y1="568.4" y2="571.2" stroke="#555" stroke-width="1.1"/>
<text x="818.8" y="578.8" text-anchor="middle" font-size="10" fill="#5A5A5A" textLength="16.35" lengthAdjust="spacingAndGlyphs">12.5</text>
<text x="659.1" y="590" font-size="13" fill="#111">time (weeks)</text>
<text transform="translate(528,437.5) rotate(-90)" text-anchor="middle" font-size="13" fill="#111">relative abundance</text>
<text x="657.8" y="321.6" font-size="15.6" font-weight="bold" fill="#111" textLength="78.4" lengthAdjust="spacingAndGlyphs">M5A (OCP)</text>
<text x="502.2" y="312.1" font-size="19" font-weight="bold" fill="#111">d</text>
<text x="835.9" y="376.7" font-size="13" fill="#111">variable</text>
<rect x="835.9" y="380.5" width="15" height="14.4" fill="#6E409C"/>
<text x="852.9" y="390.8" font-size="9.2" letter-spacing="0.25" fill="#262626">Dehalobacter</text>
<rect x="835.9" y="395.7" width="15" height="14.4" fill="#B6A499"/>
<text x="852.9" y="406" font-size="9.2" letter-spacing="0.25" fill="#262626">Azospira</text>
<rect x="835.9" y="410.9" width="15" height="14.4" fill="#F7851E"/>
<text x="852.9" y="421.2" font-size="9.2" letter-spacing="0.25" fill="#262626">Corallococcus</text>
<rect x="835.9" y="426.1" width="15" height="14.4" fill="#EF6368"/>
<text x="852.9" y="436.4" font-size="9.2" letter-spacing="0.25" fill="#262626">Paenibacillus</text>
<rect x="835.9" y="441.3" width="15" height="14.4" fill="#F8A960"/>
<text x="852.9" y="451.6" font-size="9.2" letter-spacing="0.25" fill="#262626">Novosphingobium</text>
<rect x="835.9" y="456.5" width="15" height="14.4" fill="#A6CEE3"/>
<text x="852.9" y="466.8" font-size="9.2" letter-spacing="0.25" fill="#262626">+</text>
<rect x="835.9" y="471.7" width="15" height="14.4" fill="#ADDC8A"/>
<text x="852.9" y="482" font-size="9.2" letter-spacing="0.25" fill="#262626">Acinetobacter</text>
<rect x="835.9" y="486.9" width="15" height="14.4" fill="#3C8AAA"/>
<text x="852.9" y="497.2" font-size="9.2" letter-spacing="0.25" fill="#262626">Methanobacterium</text>
<rect x="835.9" y="502.1" width="15" height="14.4" fill="#82B4D8"/>
<text x="852.9" y="512.4" font-size="9.2" letter-spacing="0.25" fill="#262626">Prevotella</text>
<rect x="835.9" y="517.3" width="15" height="14.4" fill="#2377B4"/>
<text x="852.9" y="527.6" font-size="9.2" letter-spacing="0.25" fill="#262626">Methanosaeta</text>
<text x="10.3" y="634.0" font-size="14.8" fill="#111" stroke="#111" stroke-width="0.35" textLength="48.9" lengthAdjust="spacingAndGlyphs">Figure 2.</text>
<text x="63.9" y="634.0" font-size="14.8" fill="#111" textLength="942.4" lengthAdjust="spacingAndGlyphs">Relative abundances of anodic dominant genera collected from a) M1A, b) M2A, c) M4A and d) M5A during the experiment. Colors represent specific taxonomic groups,</text>
<text x="10" y="651.3" font-size="14.8" fill="#111" textLength="175.5" lengthAdjust="spacingAndGlyphs">“+” refers to all other organisms.</text>
</svg>
</body></html>
